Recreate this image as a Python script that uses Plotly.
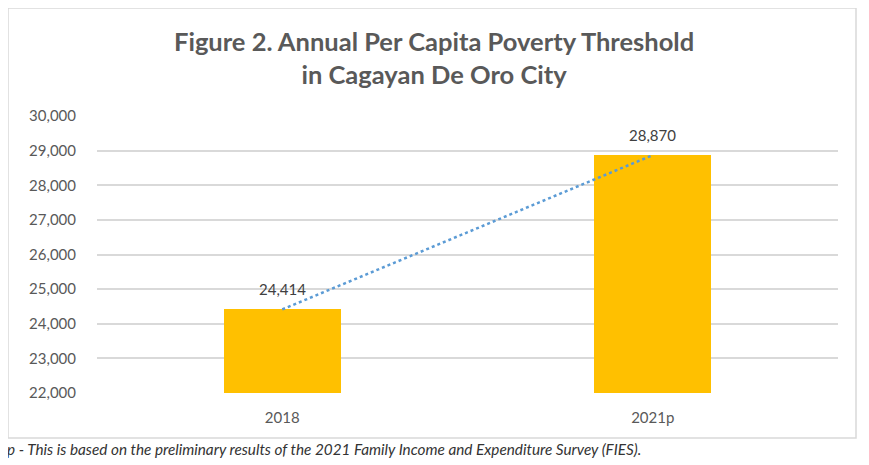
import plotly.graph_objects as go

categories = ["2018", "2021p"]
values = [24414, 28870]
value_labels = ["24,414", "28,870"]
tick_vals = [22000, 23000, 24000, 25000, 26000, 27000, 28000, 29000, 30000]
tick_text = ["22,000", "23,000", "24,000", "25,000", "26,000", "27,000", "28,000", "29,000", "30,000"]

FONT = "Lato"
OX, OY = 8, 8  # page body margin offset
W, H = 869 - OX, 465 - OY
# desired plot area in page pixels
PL, PR, PT, PB = 97, 838, 116, 393
L, R, T, B = PL - OX, 869 - PR, PT - OY, 465 - PB

def px_x(p):
    return (p - PL) / (PR - PL)

def px_y(p):
    return (PB - p) / (PB - PT)

fig = go.Figure()
fig.add_trace(go.Bar(
    x=categories, y=values, marker=dict(color="#FFC000", line=dict(width=0)),
    width=0.316, base=0, hoverinfo="skip"
))
fig.add_trace(go.Scatter(
    x=categories, y=values, mode="lines",
    line=dict(color="#5B9BD5", width=2.5, dash="dot"), hoverinfo="skip"
))

for i, (v, t) in enumerate(zip(values, value_labels)):
    fig.add_annotation(x=i, y=v, text=t, showarrow=False, yanchor="bottom",
                       yshift=9, font=dict(family=FONT, size=15, color="#404040"))

fig.add_annotation(xref="paper", yref="paper", x=px_x(434), y=px_y(58),
                   text="<b>Figure 2. Annual Per Capita Poverty Threshold<br>in Cagayan De Oro City</b>",
                   showarrow=False, xanchor="center", yanchor="middle",
                   font=dict(family=FONT, size=25.5, color="#595959"))

fig.add_annotation(xref="paper", yref="paper", x=px_x(5), y=px_y(449),
                   text="<i>p - This is based on the preliminary results of the 2021 Family Income and Expenditure Survey (FIES).</i>",
                   showarrow=False, xanchor="left", yanchor="middle",
                   font=dict(family=FONT, size=15.3, color="#333333"))

fig.add_shape(type="rect", xref="paper", yref="paper",
              x0=px_x(8), x1=px_x(856), y0=px_y(8), y1=px_y(438),
              line=dict(color="#D9D9D9", width=1.5), fillcolor="rgba(0,0,0,0)", layer="below")

fig.update_layout(
    width=W, height=H, margin=dict(l=L, r=R, t=T, b=B),
    paper_bgcolor="white", plot_bgcolor="white", showlegend=False,
    bargap=0,
    font=dict(family=FONT, color="#595959"),
)
fig.update_xaxes(type="category", range=[-0.5, 1.5], showgrid=False, showline=False,
                 ticks="", tickfont=dict(family=FONT, size=15, color="#595959"),
                 ticklabelstandoff=14)
fig.update_yaxes(range=[22000, 30000], tickvals=tick_vals, ticktext=tick_text,
                 showgrid=True, gridcolor="#D9D9D9", gridwidth=1.5, zeroline=False,
                 showline=False, ticks="", tickfont=dict(family=FONT, size=15, color="#595959"),
                 ticklabelstandoff=20)

fig.write_html("out.html")
